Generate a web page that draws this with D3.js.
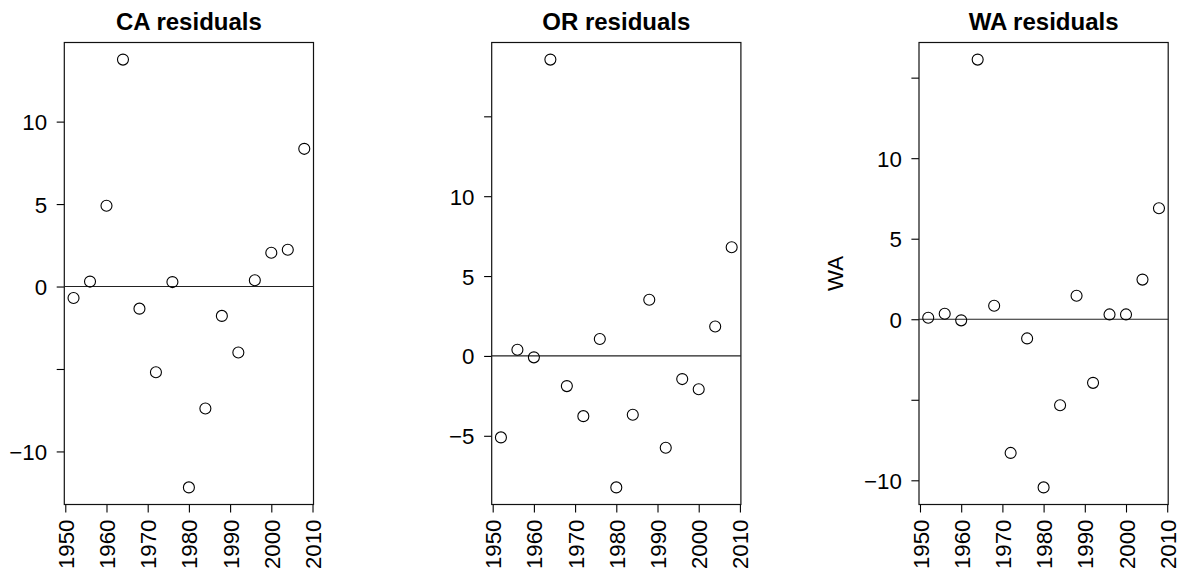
<!DOCTYPE html>
<html>
<head>
<meta charset="utf-8">
<script src="https://cdn.jsdelivr.net/npm/d3@7"></script>
<style>
  html, body { margin: 0; padding: 0; background: #fff; }
  svg { display: block; }
  text { font-family: "Liberation Sans", Arial, Helvetica, sans-serif; fill: #000; }
</style>
</head>
<body>
<svg id="chart" width="1180" height="577"></svg>
<script>
// Survey years (every 4 years)
const years = [1952, 1956, 1960, 1964, 1968, 1972, 1976, 1980, 1984, 1988, 1992, 1996, 2000, 2004, 2008];

// Residuals per state
const caResid = [-0.7, 0.3, 4.9, 13.76, -1.34, -5.2, 0.27, -12.18, -7.4, -1.78, -4.0, 0.38, 2.05, 2.23, 8.35];
const orResid = [-5.1, 0.39, -0.09, 18.55, -1.89, -3.77, 1.06, -8.23, -3.68, 3.52, -5.75, -1.45, -2.09, 1.84, 6.8];
const waResid = [0.09, 0.34, -0.07, 16.12, 0.84, -8.3, -1.19, -10.44, -5.34, 1.46, -3.95, 0.3, 0.3, 2.46, 6.89];

// Axis ticks: every tick mark, and the subset that carries a label
const xTicks = [1950, 1960, 1970, 1980, 1990, 2000, 2010];
const caYTicks = [-10, -5, 0, 5, 10];
const caYLabels = [-10, 0, 5, 10];
const orYTicks = [-5, 0, 5, 10, 15];
const orYLabels = [-5, 0, 5, 10];
const waYTicks = [-10, -5, 0, 5, 10, 15];
const waYLabels = [-10, 0, 5, 10];

const titles = ["CA residuals", "OR residuals", "WA residuals"];
const yTitles = ["", "", "WA"];

const panels = [
  { title: titles[0], ylab: yTitles[0], values: caResid, yTicks: caYTicks, yLabels: caYLabels, left: 64.3 },
  { title: titles[1], ylab: yTitles[1], values: orResid, yTicks: orYTicks, yLabels: orYLabels, left: 491.7 },
  { title: titles[2], ylab: yTitles[2], values: waResid, yTicks: waYTicks, yLabels: waYLabels, left: 919 }
];

const boxW = 249.2, plotTop = 42.5, plotBottom = 504.5;
const tickFont = 22.3, titleFont = 24;
const minus = s => String(s).replace("-", "\u2212");

// Extend a range by 4% on each side
function padded(ext) {
  const d = (ext[1] - ext[0]) * 0.04;
  return [ext[0] - d, ext[1] + d];
}

const svg = d3.select("#chart");

panels.forEach(p => {
  const g = svg.append("g");
  const x = d3.scaleLinear().domain(padded(d3.extent(years))).range([p.left, p.left + boxW]);
  const y = d3.scaleLinear().domain(padded(d3.extent(p.values))).range([plotBottom, plotTop]);

  // Bottom axis with vertical year labels
  const xAxis = g.append("g")
    .attr("transform", `translate(0,${plotBottom})`)
    .call(d3.axisBottom(x).tickValues(xTicks).tickSize(8).tickFormat(d3.format("d")));
  xAxis.select(".domain").remove();
  xAxis.selectAll(".tick line").attr("stroke", "#000").attr("stroke-width", 1.1);
  xAxis.selectAll(".tick text")
    .attr("font-size", tickFont)
    .attr("font-family", "Liberation Sans, Arial, sans-serif")
    .attr("fill", "#000")
    .attr("text-anchor", "end")
    .attr("transform", "rotate(-90)")
    .attr("x", -15)
    .attr("y", 0)
    .attr("dy", "0.36em");
  g.append("line")
    .attr("x1", x(xTicks[0])).attr("x2", x(xTicks[xTicks.length - 1]))
    .attr("y1", plotBottom).attr("y2", plotBottom)
    .attr("stroke", "#000").attr("stroke-width", 1.1);

  // Left axis; some ticks are drawn without a label
  const yAxis = g.append("g")
    .attr("transform", `translate(${p.left},0)`)
    .call(d3.axisLeft(y).tickValues(p.yTicks).tickSize(7.6)
      .tickFormat(d => p.yLabels.includes(d) ? minus(d) : ""));
  yAxis.select(".domain").remove();
  yAxis.selectAll(".tick line").attr("stroke", "#000").attr("stroke-width", 1.1);
  yAxis.selectAll(".tick text")
    .attr("font-size", tickFont)
    .attr("font-family", "Liberation Sans, Arial, sans-serif")
    .attr("fill", "#000")
    .attr("x", -17.2)
    .attr("dy", "0.36em");

  // Plot frame
  g.append("rect")
    .attr("x", p.left).attr("y", plotTop)
    .attr("width", boxW).attr("height", plotBottom - plotTop)
    .attr("fill", "none").attr("stroke", "#111").attr("stroke-width", 1.2);

  // Zero reference line
  g.append("line")
    .attr("x1", p.left).attr("x2", p.left + boxW)
    .attr("y1", y(0)).attr("y2", y(0))
    .attr("stroke", "#222").attr("stroke-width", 1.1);

  // Residual points
  g.selectAll("circle.pt")
    .data(years.map((yr, i) => ({ yr, v: p.values[i] })))
    .join("circle")
    .attr("class", "pt")
    .attr("cx", d => x(d.yr))
    .attr("cy", d => y(d.v))
    .attr("r", 5.5)
    .attr("fill", "none")
    .attr("stroke", "#000")
    .attr("stroke-width", 1.1);

  // Title
  g.append("text")
    .attr("x", p.left + boxW / 2)
    .attr("y", 29.5)
    .attr("text-anchor", "middle")
    .attr("font-size", titleFont)
    .attr("font-weight", "bold")
    .text(p.title);

  // Y axis title
  if (p.ylab) {
    g.append("text")
      .attr("transform", `translate(${p.left - 84},${(plotTop + plotBottom) / 2}) rotate(-90)`)
      .attr("text-anchor", "middle")
      .attr("dy", "0.36em")
      .attr("font-size", tickFont)
      .text(p.ylab);
  }
});
</script>
</body>
</html>
